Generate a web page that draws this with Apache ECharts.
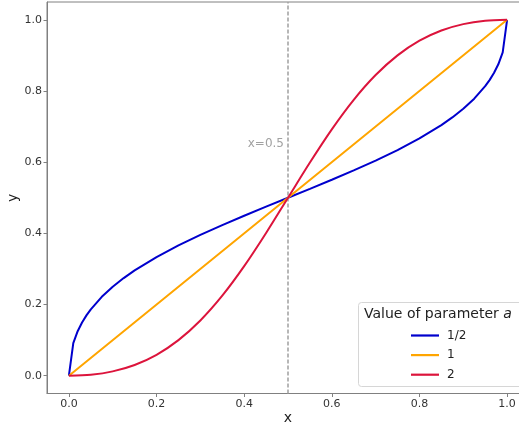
<!DOCTYPE html>
<html>
<head>
<meta charset="utf-8">
<script src="https://cdn.jsdelivr.net/npm/echarts@6/dist/echarts.min.js"></script>
<style>html,body{margin:0;padding:0;background:#fff;}#c{width:519px;height:428px;}</style>
</head>
<body>
<div id="c"></div>
<script>
// Data
var xTicks = [0.0, 0.2, 0.4, 0.6, 0.8, 1.0];
var yTicks = [0.0, 0.2, 0.4, 0.6, 0.8, 1.0];
var seriesNames = ['1/2', '1', '2'];

var xHalf = [0, 0.01, 0.02, 0.03, 0.04, 0.05, 0.075, 0.1, 0.125, 0.15, 0.2, 0.25, 0.3, 0.35, 0.4, 0.45, 0.5,
             0.55, 0.6, 0.65, 0.7, 0.75, 0.8, 0.85, 0.875, 0.9, 0.925, 0.95, 0.96, 0.97, 0.98, 0.99, 1];
var yHalf = [0, 0.0913, 0.125, 0.1496, 0.1695, 0.1866, 0.2216, 0.25, 0.2743, 0.2958, 0.3333, 0.366, 0.3957, 0.4232, 0.4495, 0.4749, 0.5,
             0.5251, 0.5505, 0.5768, 0.6043, 0.634, 0.6667, 0.7042, 0.7257, 0.75, 0.7784, 0.8134, 0.8305, 0.8504, 0.875, 0.9087, 1];

var xOne = [0, 0.5, 1];
var yOne = [0, 0.5, 1];

var xTwo = [0, 0.05, 0.1, 0.15, 0.2, 0.25, 0.3, 0.35, 0.4, 0.45, 0.5, 0.55, 0.6, 0.65, 0.7, 0.75, 0.8, 0.85, 0.9, 0.95, 1];
var yTwo = [0, 0.0028, 0.0122, 0.0302, 0.0588, 0.1, 0.1552, 0.2248, 0.3077, 0.401, 0.5, 0.599, 0.6923, 0.7752, 0.8448, 0.9, 0.9412, 0.9698, 0.9878, 0.9972, 1];

var markX = 0.5;
var markLabelY = 0.65;

function zip(xs, ys) { return xs.map(function (x, i) { return [x, ys[i]]; }); }

var FONT = 'DejaVu Sans';
var chart = echarts.init(document.getElementById('c'), null, {renderer: 'canvas'});
chart.setOption({
  animation: false,
  backgroundColor: '#fff',
  grid: {left: 47, top: 2, width: 482, height: 391.5, show: true, borderColor: '#808080', borderWidth: 1,
         containLabel: false, outerBoundsMode: 'none'},
  xAxis: {
    type: 'value', min: -0.05, max: 1.05,
    name: 'x', nameLocation: 'middle', nameGap: 18, nameMoveOverlap: false,
    nameTextStyle: {fontFamily: FONT, fontSize: 14, color: '#222'},
    axisLine: {show: true, onZero: false, lineStyle: {color: '#808080', width: 1}},
    axisTick: {show: true, length: 3.5, customValues: xTicks, lineStyle: {color: '#808080'}},
    axisLabel: {customValues: xTicks, margin: 5, fontFamily: FONT, fontSize: 11, color: '#333',
                formatter: function (v) { return v.toFixed(1); }},
    splitLine: {show: false}
  },
  yAxis: {
    type: 'value', min: -0.05, max: 1.05,
    name: 'y', nameLocation: 'middle', nameGap: 27, nameRotate: 90, nameMoveOverlap: false,
    nameTextStyle: {fontFamily: FONT, fontSize: 14, color: '#222'},
    axisLine: {show: true, onZero: false, lineStyle: {color: '#808080', width: 1}},
    axisTick: {show: true, length: 3.5, customValues: yTicks, lineStyle: {color: '#808080'}},
    axisLabel: {customValues: yTicks, margin: 5, fontFamily: FONT, fontSize: 11, color: '#333',
                formatter: function (v) { return v.toFixed(1); }},
    splitLine: {show: false}
  },
  legend: {
    data: seriesNames, orient: 'vertical', left: 411, top: 329.5, padding: 0,
    itemWidth: 28, itemHeight: 2.2, itemGap: 7.6, icon: 'rect', selectedMode: false, z: 10,
    textStyle: {fontFamily: FONT, fontSize: 12, color: '#222', padding: [0, 0, 0, 3]}
  },
  graphic: [
    {type: 'rect', z: 1, shape: {x: 358.5, y: 302.5, width: 200, height: 84, r: 3},
     style: {fill: 'rgba(255,255,255,0.85)', stroke: '#d6d6d6', lineWidth: 1}},
    {type: 'text', z: 11, left: 364, top: 307,
     style: {text: 'Value of parameter {i|a}', fontFamily: FONT, fontSize: 14, fill: '#222',
             rich: {i: {fontStyle: 'italic', fontFamily: FONT, fontSize: 14, fill: '#222'}}}}
  ],
  series: [
    {type: 'scatter', name: 'mark', data: [[markX, markLabelY]], symbolSize: 0, silent: true, z: 1,
     label: {show: true, position: 'left', distance: 4, formatter: 'x=0.5', fontFamily: FONT, fontSize: 12, color: '#8a8a8a'},
     markLine: {silent: true, symbol: 'none', data: [{xAxis: markX}], label: {show: false},
                lineStyle: {type: [4, 2], color: '#a0a0a0', width: 1.5}}},
    {type: 'line', name: seriesNames[0], data: zip(xHalf, yHalf), showSymbol: false, symbol: 'none',
     lineStyle: {color: '#0000cd', width: 2}, itemStyle: {color: '#0000cd'}, z: 3},
    {type: 'line', name: seriesNames[1], data: zip(xOne, yOne), showSymbol: false, symbol: 'none',
     lineStyle: {color: '#ffa500', width: 2}, itemStyle: {color: '#ffa500'}, z: 4},
    {type: 'line', name: seriesNames[2], data: zip(xTwo, yTwo), showSymbol: false, symbol: 'none', smooth: 0.3,
     lineStyle: {color: '#dc143c', width: 2}, itemStyle: {color: '#dc143c'}, z: 5}
  ]
});
</script>
</body>
</html>
